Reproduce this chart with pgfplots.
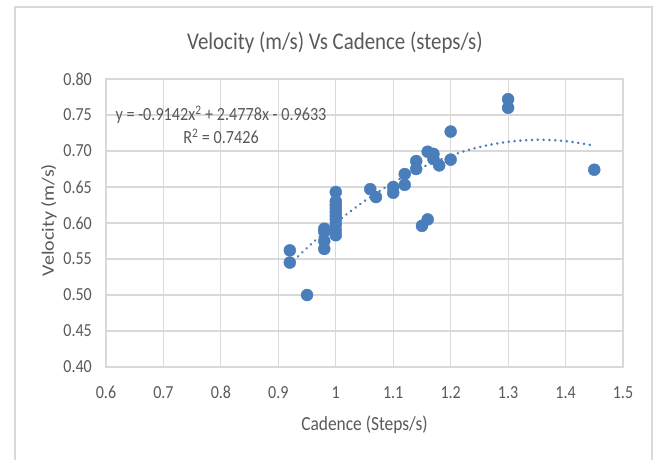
\documentclass[border=0pt]{standalone}
\usepackage{fontspec}
\setmainfont[FakeStretch=0.87]{Carlito}
\newfontfamily\ylabfont[FakeStretch=1.15]{Carlito}
\usepackage{pgfplots}
\pgfplotsset{compat=1.18}

\definecolor{ptblue}{HTML}{4A7EBB}
\definecolor{gridgray}{HTML}{D9D9D9}
\definecolor{txtgray}{HTML}{595959}

\begin{document}
\begin{tikzpicture}[x=1pt,y=1pt]
\useasboundingbox (0,0) rectangle (657,459);
\draw[gridgray, line width=1.2pt] (15,-5) rectangle (652,452);

\begin{axis}[
  at={(106pt,92pt)}, anchor=south west,
  scale only axis,
  width=517pt, height=288pt,
  xmin=0.6, xmax=1.5, ymin=0.4, ymax=0.8,
  xtick={0.6,0.7,0.8,0.9,1.0,1.1,1.2,1.3,1.4,1.5},
  xticklabels={0.6,0.7,0.8,0.9,1,1.1,1.2,1.3,1.4,1.5},
  ytick={0.40,0.45,0.50,0.55,0.60,0.65,0.70,0.75,0.80},
  yticklabels={0.40,0.45,0.50,0.55,0.60,0.65,0.70,0.75,0.80},
  major tick length=0pt,
  grid=major,
  grid style={gridgray, line width=1.2pt},
  axis line style={gridgray, line width=1.2pt},
  tick label style={font=\fontsize{18.4}{22}\selectfont, text=txtgray, inner sep=0pt},
  xticklabel style={anchor=north, yshift=-19pt},
  yticklabel style={anchor=east, xshift=-14pt},
  clip=false,
]
  % data points
  \addplot[only marks, mark=*, mark size=6pt, mark options={fill=ptblue, draw=ptblue}] coordinates {
    (0.92,0.562) (0.92,0.545) (0.95,0.500)
    (0.98,0.592) (0.98,0.588) (0.98,0.575) (0.98,0.564)
    (1.00,0.643) (1.00,0.630) (1.00,0.625) (1.00,0.620) (1.00,0.615)
    (1.00,0.610) (1.00,0.605) (1.00,0.598) (1.00,0.590) (1.00,0.583)
    (1.06,0.647) (1.07,0.636)
    (1.10,0.650) (1.10,0.642)
    (1.12,0.668) (1.12,0.653)
    (1.14,0.686) (1.14,0.675)
    (1.15,0.596) (1.16,0.605)
    (1.16,0.699) (1.17,0.696) (1.17,0.689) (1.18,0.680)
    (1.20,0.727) (1.20,0.688)
    (1.30,0.772) (1.30,0.760)
    (1.45,0.674)
  };
  % polynomial trendline (values of y = -0.9142x^2 + 2.4778x - 0.9633)
  \addplot[ptblue, smooth, line width=2.8pt, line cap=round, dash pattern=on 0.01pt off 5.8pt] coordinates {
    (0.92,0.5425) (0.95,0.5655) (1.00,0.6003) (1.05,0.6305) (1.10,0.6561)
    (1.15,0.6771) (1.20,0.6936) (1.25,0.7055) (1.30,0.7128) (1.35,0.7156)
    (1.40,0.7138) (1.45,0.7074)
  };
\end{axis}

\node[txtgray, font=\fontsize{24}{28}\selectfont] at (335,416) {Velocity (m/s) Vs Cadence (steps/s)};
\node[txtgray, font=\fontsize{20}{24}\selectfont] at (364.5,34) {Cadence (Steps/s)};
\node[txtgray, rotate=90, font=\ylabfont\fontsize{17.4}{21}\selectfont] at (49,239) {Velocity (m/s)};
\node[txtgray, align=center, font=\fontsize{18.6}{23}\selectfont, inner sep=0pt] at (221,334)
  {y = -0.9142x\textsuperscript{2} + 2.4778x - 0.9633\\R\textsuperscript{2} = 0.7426};
\end{tikzpicture}
\end{document}
